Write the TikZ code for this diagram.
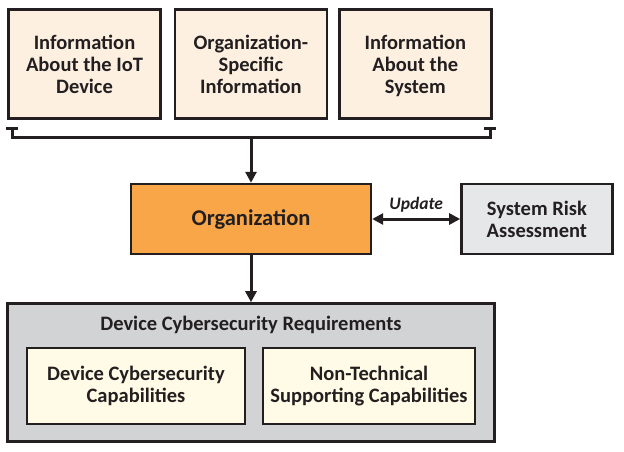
\documentclass[tikz,border=0pt]{standalone}
\usepackage{fontspec}
\setmainfont{Carlito}
\usetikzlibrary{arrows.meta, positioning}
\definecolor{ink}{HTML}{231F20}
\definecolor{peach}{HTML}{FDF0E1}
\definecolor{orgfill}{HTML}{F8A647}
\definecolor{riskgray}{HTML}{E6E7E8}
\definecolor{reqgray}{HTML}{D1D3D4}
\definecolor{cream}{HTML}{FFFBE6}

\begin{document}
\begin{tikzpicture}[
    x=1pt, y=-1pt,
    box/.style={draw=ink, line width=2.4pt, minimum width=152pt, minimum height=109pt,
                font=\fontsize{20.5}{22}\selectfont\bfseries, text=ink, align=center, inner sep=2pt},
    infobox/.style={box, fill=peach, text depth=0pt},
    orgbox/.style={box, fill=orgfill, minimum width=240pt, minimum height=70pt,
                   font=\fontsize{22.5}{24}\selectfont\bfseries},
    riskbox/.style={box, fill=riskgray, minimum width=151pt, minimum height=70pt},
    reqbox/.style={box, fill=reqgray, minimum width=487pt, minimum height=138pt},
    capbox/.style={box, fill=cream, minimum height=76pt},
    arr/.style={-{Triangle[length=11pt, width=11pt]}, line width=3pt, draw=ink},
    dblarr/.style={arr, {Triangle[length=11pt, width=11pt]}-{Triangle[length=11pt, width=11pt]}}
  ]
  \useasboundingbox (0,0) rectangle (624,452);

  % Nodes – inputs
  \node[infobox] (iotdev) at (84.5,64) {Information\\ About the IoT\\ Device};
  \node[infobox, right=12pt of iotdev]  (orgspec) {Organization-\\ Specific\\ Information};
  \node[infobox, right=10pt of orgspec] (sysinfo) {Information\\ About the\\ System};

  % Nodes – organization
  \node[orgbox] (org) at (251,219) {Organization};
  \node[riskbox, right=88pt of org] (risk) {System Risk\\ Assessment};

  % Nodes – requirements
  \node[reqbox, below=47pt of org] (req) {};
  \node[font=\fontsize{20.5}{22}\selectfont\bfseries, text=ink] (reqtitle) at (251,325)
    {Device Cybersecurity Requirements};
  \node[capbox, minimum width=218pt] (devcap) at (136,386) {Device Cybersecurity\\ Capabilities};
  \node[capbox, minimum width=212pt] (nontech) at (369,386) {Non-Technical\\ Supporting Capabilities};

  % Bracket
  \coordinate (brL) at (12,127);
  \coordinate (brR) at (490,127);
  \coordinate (brM) at (251,137);
  \draw[line width=3pt, draw=ink, {Bar[width=12pt]}-{Bar[width=12pt]}] (brL) -- ++(0,10) -| (brR);

  % Arrows
  \draw[arr] (brM) -- (org);
  \draw[dblarr] (org) -- node[above=2pt, font=\fontsize{17.5}{20}\selectfont\bfseries\itshape, text=ink] {Update} (risk);
  \draw[arr] (org) -- (org.south |- req.north);
\end{tikzpicture}
\end{document}
